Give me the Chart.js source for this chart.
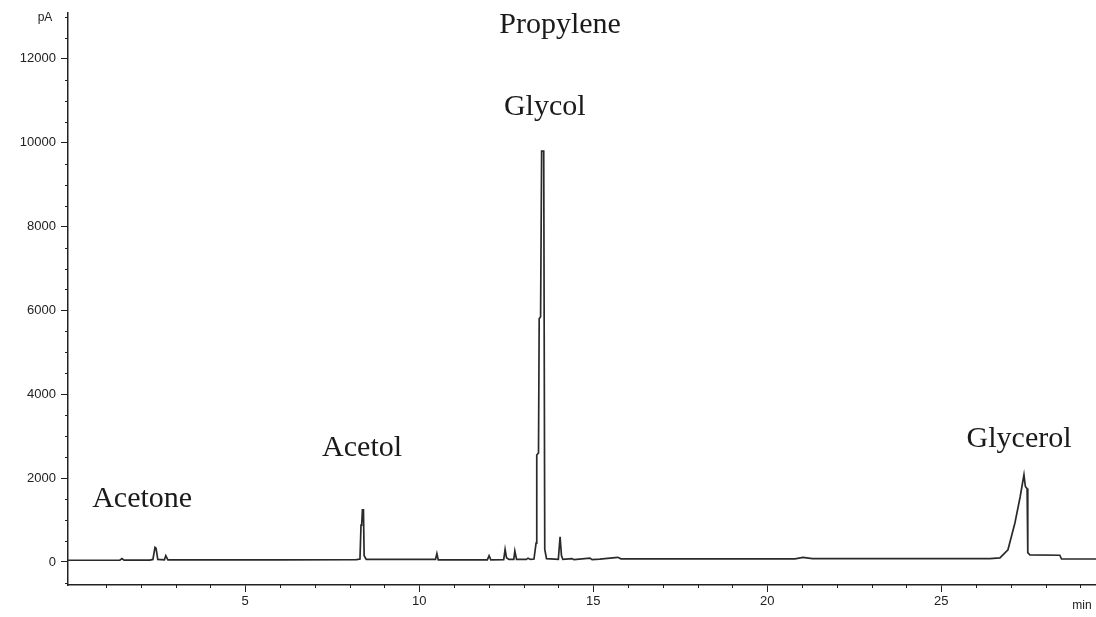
<!DOCTYPE html>
<html>
<head>
<meta charset="utf-8">
<script src="https://cdn.jsdelivr.net/npm/chart.js@4.4.0/dist/chart.umd.min.js"></script>
<style>
  html, body { margin: 0; padding: 0; background: #fff; }
  #wrap { width: 1096px; height: 617px; }
</style>
</head>
<body>
<div id="wrap"><canvas id="chart"></canvas></div>
<script>
// retention time (min) and detector signal (pA)
const times = [
  -0.09, 0.80, 1.40, 1.46, 1.52, 2.26, 2.35, 2.41, 2.44, 2.49, 2.68, 2.72, 2.78, 4.00, 6.00,
  8.20, 8.30, 8.33, 8.35, 8.37, 8.40, 8.42, 8.48, 10.47, 10.51, 10.55, 11.96, 12.01, 12.06,
  12.43, 12.47, 12.51, 12.58, 12.72, 12.75, 12.80, 13.08, 13.13, 13.20, 13.30, 13.36, 13.38,
  13.43, 13.45, 13.49, 13.52, 13.58, 13.61, 13.66, 14.00, 14.05, 14.09, 14.13, 14.39, 14.45,
  14.91, 14.97, 15.19, 15.71, 15.80, 18.00, 20.80, 21.03, 21.30, 24.00, 26.40, 26.69, 26.92,
  27.12, 27.27, 27.38, 27.42, 27.47, 27.49, 27.55, 28.41, 28.46, 29.45
];
const signal = [
  40, 40, 42, 80, 42, 45, 60, 350, 330, 60, 50, 150, 50, 48, 50,
  55, 70, 880, 900, 1240, 1240, 150, 60, 60, 200, 50, 50, 150, 50,
  55, 300, 100, 60, 60, 260, 60, 60, 90, 60, 70, 450, 2550,
  2600, 5800, 5850, 9800, 9800, 300, 80, 60, 600, 150, 60, 80, 55,
  90, 55, 65, 110, 75, 72, 75, 110, 80, 78, 80, 95, 290,
  930, 1550, 2080, 1800, 1750, 220, 170, 160, 70, 70
];

const xTickValues = [5, 10, 15, 20, 25];
const yTickValues = [0, 2000, 4000, 6000, 8000, 10000, 12000];

// compound names and where they sit (min, pA)
const peakNames = ['Acetone', 'Acetol', 'Propylene', 'Glycol', 'Glycerol'];
const nameTimes = [2.04, 8.36, 14.05, 13.61, 27.24];
const nameLevels = [1312, 2530, 12620, 10660, 2740];

const ink = '#222';

const extras = {
  id: 'extras',
  afterDraw(chart) {
    const ctx = chart.ctx;
    const xs = chart.scales.x, ys = chart.scales.y;
    const area = chart.chartArea;
    ctx.save();
    ctx.strokeStyle = ink;
    ctx.lineWidth = 1;
    // minor ticks
    ctx.beginPath();
    for (let t = 1; t < 30; t++) {
      if (t % 5 === 0) continue;
      const px = Math.round(xs.getPixelForValue(t)) + 0.5;
      ctx.moveTo(px, area.bottom);
      ctx.lineTo(px, area.bottom + 3);
    }
    for (let v = -500; v <= 13000; v += 500) {
      if (v % 2000 === 0 && v >= 0 && v <= 12000) continue;
      const py = Math.round(ys.getPixelForValue(v)) + 0.5;
      ctx.moveTo(area.left - 3, py);
      ctx.lineTo(area.left, py);
    }
    ctx.stroke();

    // unit labels
    ctx.fillStyle = ink;
    ctx.font = '12px "Liberation Sans", Arial, sans-serif';
    ctx.textAlign = 'center';
    ctx.textBaseline = 'middle';
    ctx.fillText('pA', 45, 18);
    ctx.fillText('min', 1082, 606);

    // compound names
    ctx.font = '30px "Liberation Serif", "Times New Roman", serif';
    ctx.textBaseline = 'alphabetic';
    ctx.fillStyle = '#1a1a1a';
    peakNames.forEach((name, i) => {
      ctx.fillText(name, xs.getPixelForValue(nameTimes[i]), ys.getPixelForValue(nameLevels[i]));
    });
    ctx.restore();
  }
};

new Chart(document.getElementById('chart'), {
  type: 'line',
  data: {
    datasets: [{
      label: 'FID signal',
      data: times.map((t, i) => ({ x: t, y: signal[i] })),
      borderColor: '#2a2a2a',
      borderWidth: 1.7,
      pointRadius: 0,
      tension: 0,
      fill: false
    }]
  },
  options: {
    responsive: true,
    maintainAspectRatio: false,
    animation: false,
    layout: { padding: { top: 12, right: 0, left: 0, bottom: 0 } },
    plugins: { legend: { display: false }, tooltip: { enabled: false } },
    scales: {
      x: {
        type: 'linear',
        min: -0.09,
        max: 29.45,
        afterFit: s => { s.height = 32; },
        afterBuildTicks: s => { s.ticks = xTickValues.map(v => ({ value: v })); },
        grid: { drawOnChartArea: false, drawTicks: true, tickLength: 7, color: ink },
        border: { color: ink, width: 1.5 },
        ticks: {
          color: ink,
          font: { family: '"Liberation Sans", Arial, sans-serif', size: 13 },
          padding: 2,
          maxRotation: 0,
          autoSkip: false,
          callback: v => String(v)
        }
      },
      y: {
        min: -550,
        max: 13100,
        afterFit: s => { s.width = 68; },
        afterBuildTicks: s => { s.ticks = yTickValues.map(v => ({ value: v })); },
        grid: { drawOnChartArea: false, drawTicks: true, tickLength: 7, color: ink },
        border: { color: ink, width: 1.5 },
        ticks: {
          color: ink,
          font: { family: '"Liberation Sans", Arial, sans-serif', size: 13 },
          padding: 5,
          autoSkip: false,
          callback: v => String(v)
        }
      }
    }
  },
  plugins: [extras]
});
</script>
</body>
</html>
